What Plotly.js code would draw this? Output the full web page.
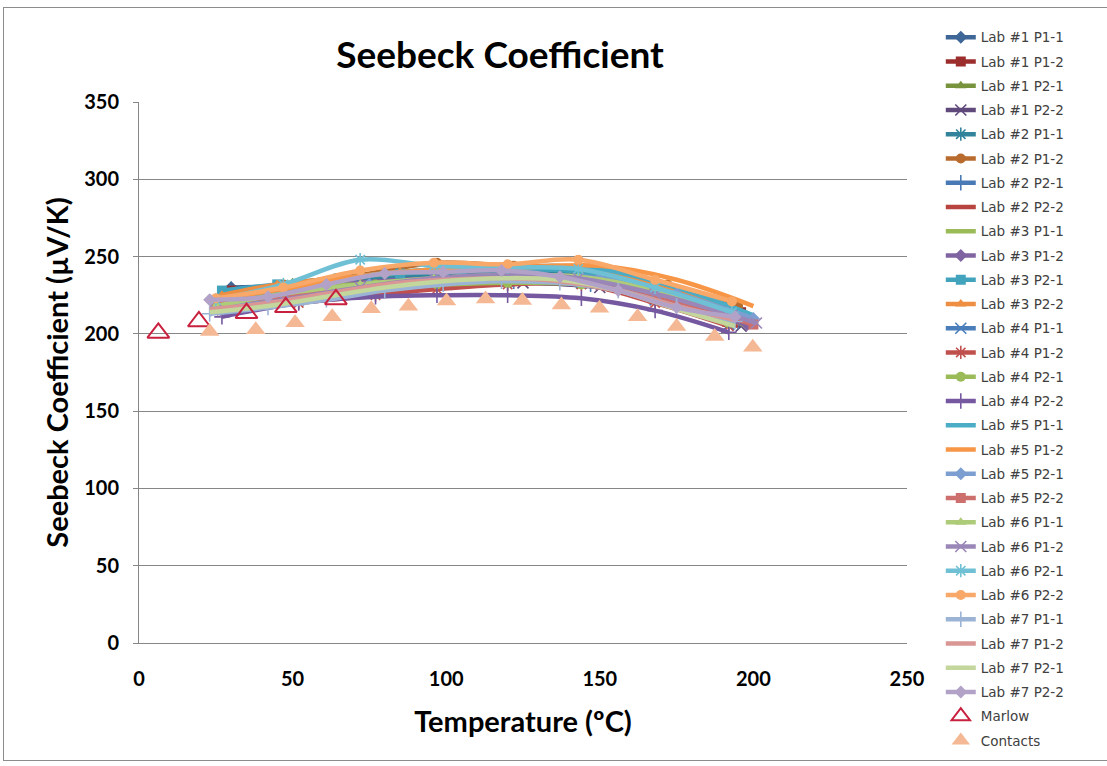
<!DOCTYPE html>
<html>
<head>
<meta charset="utf-8">
<script src="https://cdn.plot.ly/plotly-3.0.1.min.js"></script>
<style>
  html, body { margin: 0; padding: 0; background: #ffffff; }
  #chart { width: 1107px; height: 766px; }
  #frame { position: absolute; left: 3px; top: 7px; width: 1104px; height: 754px;
           border-left: 1px solid #8c8c8c; border-top: 1px solid #8c8c8c; border-bottom: 1px solid #8c8c8c;
           pointer-events: none; box-sizing: border-box; }
</style>
</head>
<body>
<div id="chart"></div>
<div id="frame"></div>
<script>
// ---------------- DATA ----------------
const seriesNames = [
  'Lab #1 P1-1','Lab #1 P1-2','Lab #1 P2-1','Lab #1 P2-2',
  'Lab #2 P1-1','Lab #2 P1-2','Lab #2 P2-1','Lab #2 P2-2',
  'Lab #3 P1-1','Lab #3 P1-2','Lab #3 P2-1','Lab #3 P2-2',
  'Lab #4 P1-1','Lab #4 P1-2','Lab #4 P2-1','Lab #4 P2-2',
  'Lab #5 P1-1','Lab #5 P1-2','Lab #5 P2-1','Lab #5 P2-2',
  'Lab #6 P1-1','Lab #6 P1-2','Lab #6 P2-1','Lab #6 P2-2',
  'Lab #7 P1-1','Lab #7 P1-2','Lab #7 P2-1','Lab #7 P2-2'
];

// temperatures (ºC) per lab
const tempLab1 = [30, 50, 75, 100, 125, 150, 175, 196];
const tempLab2 = [28, 47, 72, 97, 122, 147, 172, 195];
const tempLab3 = [27, 45, 65, 85, 105, 125, 145, 165, 185, 198];
const tempLab4 = [27, 52, 77, 97, 120, 144, 168, 192];
const tempLab5 = [25, 50, 75, 100, 125, 150, 175, 200];
const tempLab6 = [25, 47, 72, 96, 120, 143, 168, 193];
const tempLab6b = [25, 47, 72, 96, 120, 143, 168, 193, 201];
const tempLab7 = [23, 42, 61, 80, 99, 118, 137, 156, 175, 194];

// Seebeck coefficient (µV/K)
const lab1P11 = [230, 231, 233, 236, 238, 237, 226, 212];
const lab1P12 = [228, 230, 232, 235, 237, 236, 228, 214];
const lab1P21 = [226, 233, 236, 238, 239, 237, 226, 210];
const lab1P22 = [222, 226, 229, 232, 233, 230, 220, 205];
const lab2P11 = [226, 230, 235, 238, 240, 240, 230, 215];
const lab2P12 = [225, 232, 238, 246, 244, 243, 232, 218];
const lab2P21 = [218, 222, 228, 232, 234, 232, 222, 208];
const lab2P22 = [220, 225, 230, 233, 234, 231, 220, 205];
const lab3P11 = [218, 223, 228, 232, 235, 236, 235, 228, 215, 205];
const lab3P12 = [224, 228, 232, 235, 236, 236, 234, 226, 213, 206];
const lab3P21 = [228, 232, 236, 239, 241, 242, 240, 232, 220, 210];
const lab3P22 = [225, 232, 236, 240, 243, 244, 242, 234, 222, 212];
const lab4P11 = [216, 222, 228, 232, 234, 233, 222, 206];
const lab4P12 = [215, 220, 225, 229, 232, 232, 220, 205];
const lab4P21 = [220, 230, 232, 232, 233, 232, 223, 207];
const lab4P22 = [211, 220, 224, 225, 225, 223, 215, 201];
const lab5P11 = [220, 228, 238, 242, 243, 242, 230, 212];
const lab5P12 = [222, 230, 238, 242, 243, 244, 235, 218];
const lab5P21 = [217, 224, 232, 236, 238, 236, 226, 210];
const lab5P22 = [220, 225, 230, 234, 236, 232, 220, 206];
const lab6P11 = [218, 226, 232, 236, 238, 237, 228, 212];
const lab6P12 = [215, 222, 230, 236, 238, 236, 226, 212, 207];
const lab6P21 = [222, 232, 248, 244, 243, 242, 230, 214];
const lab6P22 = [223, 230, 241, 246, 245, 248, 235, 221];
const lab7P11 = [213, 217, 222, 228, 232, 234, 233, 228, 218, 208];
const lab7P12 = [216, 220, 226, 232, 235, 236, 234, 228, 218, 209];
const lab7P21 = [214, 218, 224, 230, 234, 236, 235, 228, 216, 205];
const lab7P22 = [222, 224, 232, 239, 240, 241, 237, 228, 217, 211];

const marlowTemp = [6.3, 19.5, 35, 47.8, 64.1];
const marlowSeebeck = [200.6, 208, 213.4, 217.2, 222.3];

const contactsTemp = [23, 38, 50.8, 62.9, 75.6, 87.7, 100.1, 112.8, 124.8, 137.5, 149.9, 162.3, 175, 187.4, 199.8];
const contactsSeebeck = [201.5, 202.7, 207.2, 211, 216.2, 217.8, 221.3, 222.5, 221.6, 218.7, 216.5, 211, 204.7, 198.3, 191.3];

const seriesTemps = [
  tempLab1, tempLab1, tempLab1, tempLab1,
  tempLab2, tempLab2, tempLab2, tempLab2,
  tempLab3, tempLab3, tempLab3, tempLab3,
  tempLab4, tempLab4, tempLab4, tempLab4,
  tempLab5, tempLab5, tempLab5, tempLab5,
  tempLab6, tempLab6b, tempLab6, tempLab6,
  tempLab7, tempLab7, tempLab7, tempLab7
];
const seriesValues = [
  lab1P11, lab1P12, lab1P21, lab1P22,
  lab2P11, lab2P12, lab2P21, lab2P22,
  lab3P11, lab3P12, lab3P21, lab3P22,
  lab4P11, lab4P12, lab4P21, lab4P22,
  lab5P11, lab5P12, lab5P21, lab5P22,
  lab6P11, lab6P12, lab6P21, lab6P22,
  lab7P11, lab7P12, lab7P21, lab7P22
];

// ---------------- STYLE ----------------
const seriesColors = [
  '#3E6696', '#9B2E2C', '#77933C', '#5F4A7B',
  '#31849B', '#B86B2C', '#4A7AB5', '#B8443F',
  '#9BBB59', '#8064A2', '#42A3BD', '#EE8E42',
  '#4A7EBB', '#C0504D', '#9BBB59', '#7558A0',
  '#4BACC6', '#F79646', '#7C9ED0', '#CD6F6D',
  '#AECB7A', '#9A87B8', '#6FC0D4', '#F8A868',
  '#9BB4D6', '#D99694', '#C3D69B', '#B3A2C7'
];
const symbolCycle = ['diamond', 'square', 'triangle-up', 'x-thin-open', 'asterisk-open', 'circle', 'cross-thin-open', null, null];

const traces = [];
seriesNames.forEach((name, i) => {
  const sym = symbolCycle[i % 9];
  const col = seriesColors[i];
  const t = {
    type: 'scatter',
    name: name,
    legendgroup: 'g' + i,
    x: seriesTemps[i],
    y: seriesValues[i],
    mode: sym ? 'lines+markers' : 'lines',
    line: { color: col, width: 4.5, shape: 'spline', smoothing: 1 },
    hoverinfo: 'name+x+y'
  };
  if (sym) {
    const thin = sym.indexOf('open') >= 0;
    t.marker = {
      symbol: sym,
      size: thin ? 11 : 10,
      color: col,
      line: { color: col, width: thin ? 1.6 : 0 }
    };
  }
  traces.push(t);
});

traces.push({
  type: 'scatter',
  name: 'Marlow',
  legendgroup: 'gm',
  x: marlowTemp,
  y: marlowSeebeck,
  mode: 'markers',
  marker: { symbol: 'triangle-up-open', size: 19, color: '#C8203F', line: { color: '#C8203F', width: 2 } }
});
traces.push({
  type: 'scatter',
  name: 'Contacts',
  legendgroup: 'gc',
  x: contactsTemp,
  y: contactsSeebeck,
  mode: 'markers',
  marker: { symbol: 'triangle-up', size: 17, color: '#F5B895', line: { width: 0 } }
});

const boldFont = 'Lato, "Open Sans", "DejaVu Sans", sans-serif';

const layout = {
  width: 1107,
  height: 766,
  margin: { l: 139, r: 200, t: 102, b: 123 },
  paper_bgcolor: '#ffffff',
  plot_bgcolor: '#ffffff',
  showlegend: true,
  title: {
    text: '<b>Seebeck Coefficient</b>',
    font: { family: boldFont, size: 37, color: '#000000' },
    x: 0.4517, xanchor: 'center',
    y: 0.928, yanchor: 'middle'
  },
  xaxis: {
    range: [0, 250],
    tickvals: [0, 50, 100, 150, 200, 250],
    ticks: '',
    showgrid: false,
    zeroline: false,
    showline: true,
    linecolor: '#868686',
    linewidth: 1,
    tickfont: { family: boldFont, size: 20, color: '#000000', weight: 'bold' },
    ticklabelstandoff: 18,
    title: {
      text: '<b>Temperature (ºC)</b>',
      font: { family: boldFont, size: 29, color: '#000000' },
      standoff: 22
    },
    automargin: false,
    fixedrange: true
  },
  yaxis: {
    range: [0, 350],
    tickvals: [0, 50, 100, 150, 200, 250, 300, 350],
    ticks: 'outside',
    ticklen: 5,
    tickcolor: '#868686',
    showgrid: true,
    gridcolor: '#868686',
    gridwidth: 1,
    zeroline: false,
    showline: true,
    linecolor: '#868686',
    linewidth: 1,
    tickfont: { family: boldFont, size: 20, color: '#000000', weight: 'bold' },
    ticklabelstandoff: 10,
    title: {
      text: '<b>Seebeck Coefficient (µV/K)</b>',
      font: { family: boldFont, size: 29, color: '#000000' },
      standoff: 7
    },
    automargin: false,
    fixedrange: true
  },
  legend: {
    x: 1.044, xanchor: 'left',
    y: 1.148, yanchor: 'top',
    maxheight: 760,
    font: { family: '"DejaVu Sans", sans-serif', size: 13.5, color: '#404040' },
    tracegroupgap: 3.7,
    bgcolor: 'rgba(0,0,0,0)',
    borderwidth: 0,
    itemsizing: 'trace'
  }
};

Plotly.newPlot('chart', traces, layout, { displayModeBar: false, staticPlot: true });
</script>
</body>
</html>
